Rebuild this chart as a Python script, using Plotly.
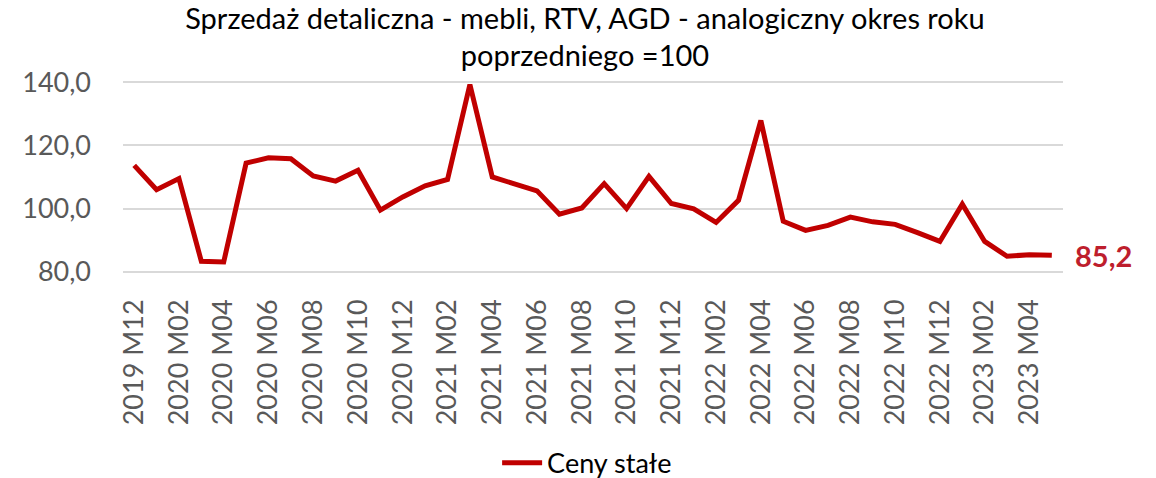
import plotly.graph_objects as go

categories = (["2019 M12"]
              + [f"2020 M{m:02d}" for m in range(1, 13)]
              + [f"2021 M{m:02d}" for m in range(1, 13)]
              + [f"2022 M{m:02d}" for m in range(1, 13)]
              + [f"2023 M{m:02d}" for m in range(1, 6)])

values = [113.7,
          106.0, 109.5, 83.3, 83.1, 114.4, 116.1, 115.8, 110.3, 108.7, 112.1, 99.5, 103.7,
          107.2, 109.2, 139.3, 110.0, 107.7, 105.6, 98.2, 100.2, 107.9, 100.0, 110.2, 101.6,
          99.9, 95.6, 102.6, 127.9, 96.0, 93.1, 94.7, 97.3, 95.8, 95.0, 92.4, 89.6,
          101.4, 89.6, 84.9, 85.4, 85.2]

series_name = "Ceny stałe"
title_text = "Sprzedaż detaliczna - mebli, RTV, AGD - analogiczny okres roku<br>poprzedniego =100"
y_ticks = [80, 100, 120, 140]
y_ticktext = ["80,0", "100,0", "120,0", "140,0"]

FONT = "Lato"
RED = "#C00000"

fig = go.Figure()
fig.add_trace(go.Scatter(
    x=categories, y=values, mode="lines", name=series_name,
    line=dict(color=RED, width=5),
))

last_label = f"{values[-1]:.1f}".replace(".", ",")
fig.add_annotation(
    x=categories[-1], y=values[-1], text=f"<b>{last_label}</b>",
    showarrow=False, xanchor="left", yanchor="middle", xshift=21,
    font=dict(family=FONT, size=29, color="#BE1E2D"),
)

fig.update_layout(
    width=1156, height=478,
    margin=dict(l=123, r=93, t=81, b=205, autoexpand=False),
    paper_bgcolor="white", plot_bgcolor="white",
    title=dict(text=title_text, x=0.506, xref="container", xanchor="center",
               y=0.94, yanchor="middle", yref="container", automargin=False,
               font=dict(family=FONT, size=29, color="#000000")),
    showlegend=True,
    legend=dict(orientation="h", x=0.398, xanchor="left", y=-0.99, yanchor="middle",
                font=dict(family=FONT, size=27, color="#000000"),
                itemwidth=40, tracegroupgap=0),
    xaxis=dict(
        type="category", categoryorder="array", categoryarray=categories,
        range=[-0.5, len(categories) - 0.5], automargin=False,
        tickmode="array", tickvals=categories[::2], ticktext=categories[::2],
        tickangle=-90, ticklabelstandoff=20,
        tickfont=dict(family=FONT, size=27, color="#595959"),
        showgrid=False, showline=False, ticks="", zeroline=False,
    ),
    yaxis=dict(
        range=[79.6, 140.4], tickmode="array", tickvals=y_ticks, ticktext=y_ticktext,
        automargin=False,
        tickfont=dict(family=FONT, size=27, color="#595959"),
        showgrid=True, gridcolor="#D9D9D9", gridwidth=1.5,
        showline=False, ticks="", zeroline=False, ticklabelstandoff=31,
    ),
)

fig.write_html("out.html", config={"displayModeBar": False},
               post_script="document.body.style.margin='0';")
